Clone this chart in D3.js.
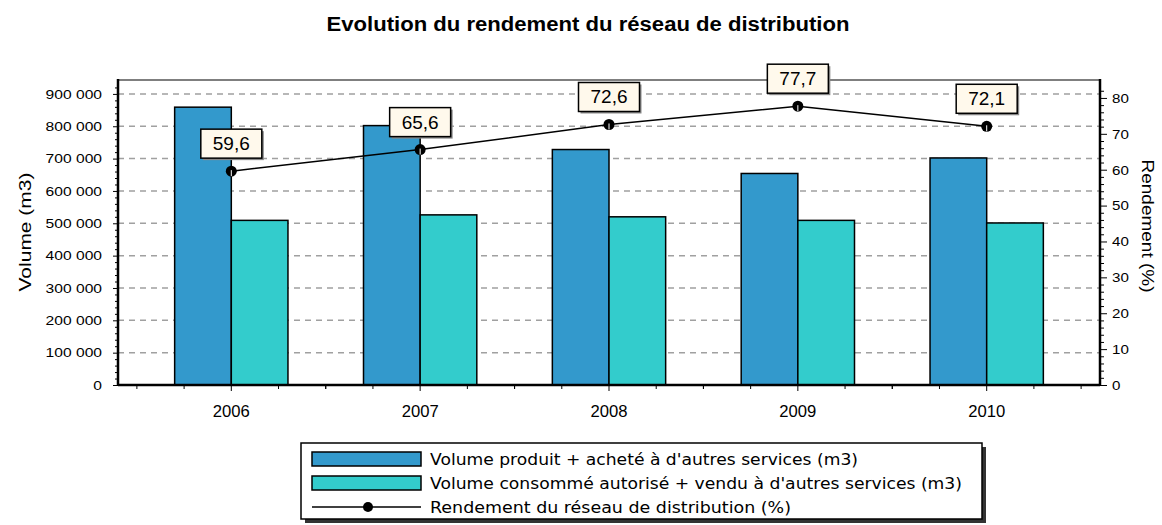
<!DOCTYPE html>
<html><head><meta charset="utf-8">
<script src="https://cdn.jsdelivr.net/npm/d3@7"></script>
<style>
body{margin:0;background:#fff}
svg{display:block}
text{font-family:"Liberation Sans",Arial,sans-serif;fill:#000}
</style>
</head><body>
<svg id="c" width="1162" height="525"></svg>
<script>
// ---- data ----
const chartTitle = "Evolution du rendement du réseau de distribution";
const years = ["2006", "2007", "2008", "2009", "2010"];
const volumeProduit = [859000, 802000, 728000, 654000, 702000];
const volumeConsomme = [509000, 526000, 520000, 509000, 501000];
const rendement = [59.6, 65.6, 72.6, 77.7, 72.1];
const rendementLabels = ["59,6", "65,6", "72,6", "77,7", "72,1"];
const leftTicks = [0, 100000, 200000, 300000, 400000, 500000, 600000, 700000, 800000, 900000];
const leftTickLabels = ["0", "100 000", "200 000", "300 000", "400 000", "500 000", "600 000", "700 000", "800 000", "900 000"];
const rightTicks = [0, 10, 20, 30, 40, 50, 60, 70, 80];
const rightTickLabels = ["0", "10", "20", "30", "40", "50", "60", "70", "80"];
const leftTitle = "Volume (m3)";
const rightTitle = "Rendement (%)";
const seriesNames = [
  "Volume produit + acheté à d'autres services (m3)",
  "Volume consommé autorisé + vendu à d'autres services (m3)",
  "Rendement du réseau de distribution (%)"
];

// ---- layout ----
const L = 118, R = 1100, T = 80, B = 385;
const svg = d3.select("#c");
const blue = "#3399cc", teal = "#33cccc";

const x = d3.scaleBand().domain(years).range([L, R]).paddingInner(0).paddingOuter(0.1);
const step = x.step();
const cx = d => x(d) + x.bandwidth() / 2;
const yL = d3.scaleLinear().domain([0, 943000]).range([B, T]);
const yR = d3.scaleLinear().domain([0, 85]).range([B, T]);

function stretch(sel, f) {
  sel.each(function () {
    const w = this.getComputedTextLength();
    d3.select(this).attr("textLength", w * f).attr("lengthAdjust", "spacingAndGlyphs");
  });
}
function fit(sel, w) {
  sel.attr("textLength", w).attr("lengthAdjust", "spacingAndGlyphs");
}

// title
svg.append("text").attr("x", 588).attr("y", 31).attr("text-anchor", "middle")
  .style("font-size", "20px").style("font-weight", "bold").text(chartTitle).call(fit, 523);

// gridlines
svg.append("g").selectAll("line").data(leftTicks.filter(d => d > 0)).join("line")
  .attr("x1", L).attr("x2", R).attr("y1", d => yL(d)).attr("y2", d => yL(d))
  .attr("stroke", "#a0a0a0").attr("stroke-width", 1.5).attr("stroke-dasharray", "6,5");

// bars
const bw = step * 0.3;
svg.append("g").selectAll("rect").data(years).join("rect")
  .attr("x", (d) => cx(d) - bw).attr("width", bw)
  .attr("y", (d, i) => yL(volumeProduit[i])).attr("height", (d, i) => B - yL(volumeProduit[i]))
  .attr("fill", blue).attr("stroke", "#000").attr("stroke-width", 1.5);
svg.append("g").selectAll("rect").data(years).join("rect")
  .attr("x", (d) => cx(d)).attr("width", bw)
  .attr("y", (d, i) => yL(volumeConsomme[i])).attr("height", (d, i) => B - yL(volumeConsomme[i]))
  .attr("fill", teal).attr("stroke", "#000").attr("stroke-width", 1.5);

// frame
svg.append("line").attr("x1", L).attr("x2", R).attr("y1", T).attr("y2", T).attr("stroke", "#555").attr("stroke-width", 1.5);
svg.append("line").attr("x1", L).attr("x2", L).attr("y1", T - 1).attr("y2", B + 1).attr("stroke", "#000").attr("stroke-width", 2.5);
svg.append("line").attr("x1", R).attr("x2", R).attr("y1", T - 1).attr("y2", B + 1).attr("stroke", "#000").attr("stroke-width", 2.5);
svg.append("line").attr("x1", L).attr("x2", R).attr("y1", B).attr("y2", B).attr("stroke", "#000").attr("stroke-width", 2.5);

// left axis
const gL = svg.append("g").attr("transform", `translate(${L},0)`)
  .call(d3.axisLeft(yL).tickValues(leftTicks).tickFormat((d, i) => leftTickLabels[i]).tickSize(5).tickPadding(11));
gL.select(".domain").remove();
gL.selectAll("text").style("font-size", "13px").style("font-family", "Liberation Sans, Arial").call(stretch, 1.2);
const gLm = svg.append("g").attr("transform", `translate(${L},0)`)
  .call(d3.axisLeft(yL).tickValues(d3.range(0, 940000, 20000).filter(v => v % 100000 !== 0)).tickFormat("").tickSize(3));
gLm.select(".domain").remove();

// right axis
const gR = svg.append("g").attr("transform", `translate(${R},0)`)
  .call(d3.axisRight(yR).tickValues(rightTicks).tickFormat((d, i) => rightTickLabels[i]).tickSize(7).tickPadding(5));
gR.select(".domain").remove();
gR.selectAll("text").style("font-size", "13.5px").call(stretch, 1.12);
const gRm = svg.append("g").attr("transform", `translate(${R},0)`)
  .call(d3.axisRight(yR).tickValues(d3.range(0, 84, 2).filter(v => v % 10 !== 0)).tickFormat("").tickSize(4));
gRm.select(".domain").remove();

// x axis
const gX = svg.append("g").attr("transform", `translate(0,${B})`)
  .call(d3.axisBottom(x).tickSize(6).tickSizeOuter(0));
gX.select(".domain").remove();
gX.selectAll("text").attr("y", 32).attr("dy", 0).style("font-size", "17px").call(fit, 37);
const minorX = [];
years.forEach(d => { [-2, -1, 1, 2].forEach(k => minorX.push(cx(d) + k * step / 4)); });
svg.append("g").selectAll("line").data(minorX).join("line")
  .attr("x1", d => d).attr("x2", d => d).attr("y1", B).attr("y2", B + 4)
  .attr("stroke", "#000").attr("stroke-width", 1);

// axis titles
svg.append("text").attr("transform", "translate(31,232) rotate(-90)").attr("text-anchor", "middle")
  .style("font-size", "16px").text(leftTitle).call(fit, 119);
svg.append("text").attr("transform", "translate(1142,226) rotate(90)").attr("text-anchor", "middle")
  .style("font-size", "16px").text(rightTitle).call(fit, 133);

// line
const line = d3.line().x((d, i) => cx(years[i])).y(d => yR(d));
svg.append("path").datum(rendement).attr("d", line).attr("fill", "none")
  .attr("stroke", "#000").attr("stroke-width", 1.5);
svg.append("g").selectAll("circle").data(rendement).join("circle")
  .attr("cx", (d, i) => cx(years[i])).attr("cy", d => yR(d)).attr("r", 5.5).attr("fill", "#000");
svg.append("g").selectAll("line").data(rendement).join("line")
  .attr("x1", (d, i) => cx(years[i])).attr("x2", (d, i) => cx(years[i]))
  .attr("y1", d => yR(d) - 1).attr("y2", d => yR(d) + 5)
  .attr("stroke", "#fff").attr("stroke-width", 1);

// data labels
const lbW = 61, lbH = 29;
const lb = svg.append("g").selectAll("g").data(rendement).join("g")
  .attr("transform", (d, i) => `translate(${cx(years[i]) - lbW / 2},${yR(d) - 13 - lbH})`);
lb.append("rect").attr("x", 2).attr("y", 2).attr("width", lbW).attr("height", lbH).attr("fill", "#888");
lb.append("rect").attr("width", lbW).attr("height", lbH).attr("fill", "#fff9ec").attr("stroke", "#000").attr("stroke-width", 1.5);
lb.append("text").attr("x", lbW / 2).attr("y", 21).attr("text-anchor", "middle")
  .style("font-size", "19px").text((d, i) => rendementLabels[i]);

// legend
const lg = svg.append("g");
lg.append("rect").attr("x", 305).attr("y", 447).attr("width", 681).attr("height", 76).attr("fill", "#333");
lg.append("rect").attr("x", 301).attr("y", 443).attr("width", 681).attr("height", 76)
  .attr("fill", "#fff").attr("stroke", "#000").attr("stroke-width", 1.5);
const rows = [459, 483, 507];
lg.append("rect").attr("x", 312).attr("y", 452).attr("width", 109).attr("height", 14).attr("fill", blue).attr("stroke", "#000").attr("stroke-width", 1.5);
lg.append("rect").attr("x", 312).attr("y", 476).attr("width", 109).attr("height", 14).attr("fill", teal).attr("stroke", "#000").attr("stroke-width", 1.5);
lg.append("line").attr("x1", 312).attr("x2", 421).attr("y1", 507).attr("y2", 507).attr("stroke", "#000").attr("stroke-width", 1.5);
lg.append("circle").attr("cx", 368).attr("cy", 507).attr("r", 5).attr("fill", "#000");
const legW = [428, 532, 361];
seriesNames.forEach((s, i) => {
  lg.append("text").attr("x", 430).attr("y", rows[i] + 6).style("font-size", "15px")
    .style("font-family", "DejaVu Sans, sans-serif").text(s).call(fit, legW[i]);
});
</script>
</body></html>
